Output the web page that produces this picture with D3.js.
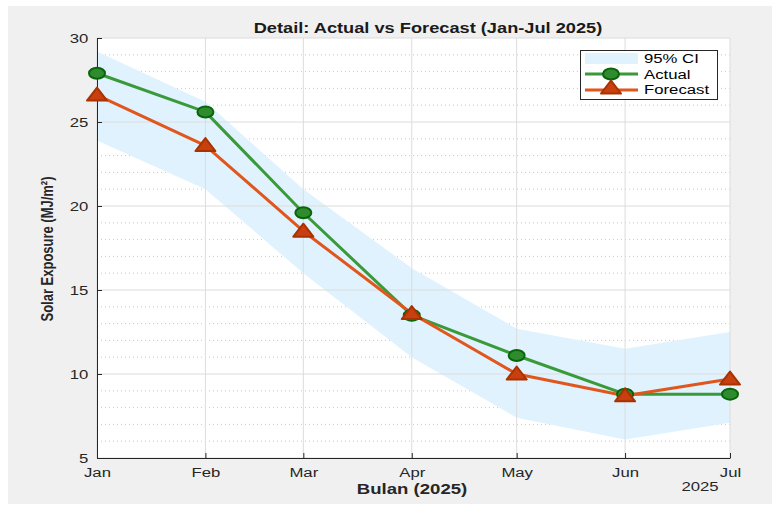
<!DOCTYPE html>
<html><head><meta charset="utf-8">
<script src="https://cdn.jsdelivr.net/npm/d3@7"></script>
<style>body{margin:0;background:#fff}svg{display:block}text{font-family:"Liberation Sans",Arial,Helvetica,sans-serif}</style>
</head><body><svg id="c" width="779" height="506"></svg>
<script>
const months = ["2025-01-01","2025-02-01","2025-03-01","2025-04-01","2025-05-01","2025-06-01","2025-07-01"];
const monthLabels = ["Jan","Feb","Mar","Apr","May","Jun","Jul"];
const actual = [27.9, 25.6, 19.6, 13.5, 11.1, 8.8, 8.8];
const forecast = [26.6, 23.6, 18.5, 13.6, 10.0, 8.7, 9.7];
const ciUpper = [29.2, 26.2, 21.0, 16.3, 12.7, 11.5, 12.5];
const ciLower = [23.9, 21.0, 16.0, 11.0, 7.4, 6.1, 7.1];
const yTicks = [5, 10, 15, 20, 25, 30];

const SX = 1.24;
const svg = d3.select("#c");
const L = 97, R = 730, T = 38, B = 458;
const dates = months.map(d => new Date(d + "T00:00:00Z"));
const x = d3.scaleUtc().domain([dates[0], dates[6]]).range([L, R]);
const y = d3.scaleLinear().domain([5, 30]).range([B, T]);

svg.append("rect").attr("x", 8).attr("y", 6).attr("width", 764).attr("height", 498).attr("fill", "#f0f0f0");
svg.append("rect").attr("x", L).attr("y", T).attr("width", R - L).attr("height", B - T).attr("fill", "#fff");

// minor grid (dotted)
const minor = d3.range(6, 30).filter(v => v % 5 !== 0);
svg.append("g").selectAll("line").data(minor).join("line")
  .attr("x1", L).attr("x2", R).attr("y1", d => y(d)).attr("y2", d => y(d))
  .attr("stroke", "#c8c8c8").attr("stroke-width", 1).attr("stroke-dasharray", "1,3");

// CI band
const area = d3.area().x((d, i) => x(dates[i])).y0((d, i) => y(ciLower[i])).y1(d => y(d));
svg.append("path").datum(ciUpper).attr("d", area).attr("fill", "#dff2fd");

// major grid
svg.append("g").selectAll("line").data(yTicks).join("line")
  .attr("x1", L).attr("x2", R).attr("y1", d => y(d)).attr("y2", d => y(d))
  .attr("stroke", "#dcdcdc").attr("stroke-width", 1);
svg.append("g").selectAll("line").data(dates).join("line")
  .attr("y1", T).attr("y2", B).attr("x1", d => x(d)).attr("x2", d => x(d))
  .attr("stroke", "#dcdcdc").attr("stroke-width", 1);

// axes
const xAxis = d3.axisBottom(x).tickValues(dates).tickFormat((d, i) => monthLabels[i]).tickSizeInner(-5).tickSizeOuter(0).tickPadding(9);
const gx = svg.append("g").attr("transform", `translate(0,${B})`).call(xAxis);
const yAxis = d3.axisLeft(y).tickValues(yTicks).tickSizeInner(-5).tickSizeOuter(0).tickPadding(7);
const gy = svg.append("g").attr("transform", `translate(${L},0)`).call(yAxis);
[gx, gy].forEach(g => {
  g.select(".domain").attr("stroke", "#262626").attr("stroke-width", 1);
  g.selectAll(".tick line").attr("stroke", "#262626");
  g.selectAll(".tick text").attr("fill", "#262626").style("font-size", "13.5px").style("font-family", '"Liberation Sans",Arial,sans-serif')
    .attr("transform", `scale(${SX},1)`);
});

// lines
const line = d3.line().x((d, i) => x(dates[i])).y(d => y(d));
svg.append("path").datum(actual).attr("d", line).attr("fill", "none").attr("stroke", "#3a9a3a").attr("stroke-width", 3).attr("stroke-linejoin", "round");
svg.append("path").datum(forecast).attr("d", line).attr("fill", "none").attr("stroke", "#e0561c").attr("stroke-width", 3).attr("stroke-linejoin", "round");

const tri = "M0,-7.5L10,5.5L-10,5.5Z";
svg.append("g").selectAll("ellipse").data(actual).join("ellipse")
  .attr("cx", (d, i) => x(dates[i])).attr("cy", d => y(d)).attr("rx", 8).attr("ry", 5.5)
  .attr("fill", "#2e8b2e").attr("stroke", "#0a640a").attr("stroke-width", 2);
svg.append("g").selectAll("path").data(forecast).join("path")
  .attr("transform", (d, i) => `translate(${x(dates[i])},${y(d)})`).attr("d", tri)
  .attr("fill", "#c8400f").attr("stroke", "#a83200").attr("stroke-width", 2).attr("stroke-linejoin", "round");

// texts (horizontally stretched like the reference)
function stext(px, py, str, opts) {
  const g = svg.append("g").attr("transform", `translate(${px},${py}) scale(${SX},1)`);
  const t = g.append("text").attr("x", 0).attr("y", 0).attr("text-anchor", opts.anchor || "start")
    .attr("font-size", opts.size).attr("fill", opts.fill || "#262626").text(str);
  if (opts.bold) t.attr("font-weight", "bold");
  return t;
}
stext(428, 33, "Detail: Actual vs Forecast (Jan-Jul 2025)", {anchor: "middle", size: 14.7, bold: true, fill: "#1a1a1a"});
stext(412, 494, "Bulan (2025)", {anchor: "middle", size: 15, bold: true});
stext(700, 491, "2025", {anchor: "middle", size: 13.5});
svg.append("text").attr("transform", `translate(53,249) rotate(-90) scale(1,${SX})`).attr("text-anchor", "middle").attr("font-weight", "bold").attr("font-size", 13).attr("fill", "#262626").text("Solar Exposure (MJ/m²)");

// legend
const lg = svg.append("g");
lg.append("rect").attr("x", 580.5).attr("y", 50.5).attr("width", 137).attr("height", 49).attr("fill", "#fff").attr("stroke", "#262626").attr("stroke-width", 1);
lg.append("rect").attr("x", 585).attr("y", 53).attr("width", 53).attr("height", 11).attr("fill", "#dff2fd");
lg.append("line").attr("x1", 585).attr("x2", 638).attr("y1", 74).attr("y2", 74).attr("stroke", "#3a9a3a").attr("stroke-width", 3);
lg.append("ellipse").attr("cx", 611).attr("cy", 74).attr("rx", 8).attr("ry", 5.5).attr("fill", "#2e8b2e").attr("stroke", "#0a640a").attr("stroke-width", 2);
lg.append("line").attr("x1", 585).attr("x2", 638).attr("y1", 90).attr("y2", 90).attr("stroke", "#e0561c").attr("stroke-width", 3);
lg.append("path").attr("transform", "translate(611,88)").attr("d", tri).attr("fill", "#c8400f").attr("stroke", "#a83200").attr("stroke-width", 2).attr("stroke-linejoin", "round");
const legTexts = ["95% CI", "Actual", "Forecast"];
legTexts.forEach((s, i) => stext(644, 63 + i * 15.5, s, {size: 13.5, fill: "#000"}));
</script></body></html>
